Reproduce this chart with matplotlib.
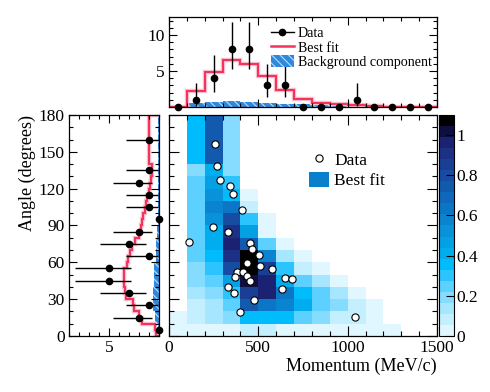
import numpy as np
import matplotlib
matplotlib.use('Agg')
from matplotlib import pyplot as plt
from matplotlib.colors import ListedColormap, BoundaryNorm
from matplotlib.lines import Line2D
from matplotlib.patches import Patch
from matplotlib.ticker import MultipleLocator

plt.rcParams['font.family'] = ['Liberation Serif', 'DejaVu Serif']
plt.rcParams['hatch.linewidth'] = 0.8
plt.rcParams['axes.linewidth'] = 0.9

# binning
mom_edges = np.arange(0, 1501, 100)
ang_edges = np.array([0, 10, 20, 30, 40, 50, 60, 70, 80, 90, 100, 110, 120, 130, 140, 180])
fit_ang_edges = np.append(np.arange(0, 141, 5), 180)

# individual events (momentum MeV/c, angle deg)
data_mom = [255, 266, 285, 339, 357, 411, 246, 328, 112, 456, 467, 506, 435, 508,
            579, 382, 415, 369, 437, 456, 651, 690, 328, 635, 363, 475, 395, 1042]
data_ang = [156, 138.5, 126.8, 122.5, 116, 102.4, 88.5, 84.4, 76.8, 75.5, 71.1, 66,
            59.2, 56.7, 54.8, 51.9, 51.9, 48.3, 48.9, 44.8, 47.5, 46.4, 39.6, 38.6,
            35, 29.3, 19.5, 15.2]

# momentum projection
mom_counts = [0, 1, 4, 8, 8, 3, 3, 0, 0, 0, 1, 0, 0, 0, 0]
mom_lo = [0, 0.17, 2.09, 5.32, 5.32, 1.37, 1.37, 0, 0, 0, 0.17, 0, 0, 0, 0]
mom_hi = [0, 3.30, 7.16, 11.77, 11.77, 5.92, 5.92, 0, 0, 0, 3.30, 0, 0, 0, 0]
fit_mom = [0, 2.24, 4.86, 6.54, 5.98, 4.25, 2.43, 1.17, 0.6, 0.37, 0.28, 0.1, 0.05, 0.0, 0.0]
bkg_mom = [0, 0.6, 0.75, 0.85, 0.65, 0.5, 0.4, 0.35, 0.25, 0.2, 0.15, 0.1, 0.06, 0, 0]

# angle projection
ang_counts = [0, 2, 1, 3, 5, 5, 1, 3, 2, 0, 1, 1, 2, 1, 1]
ang_lo = [0, 0.71, 0.17, 1.37, 2.84, 2.84, 0.17, 1.37, 0.71, 0, 0.17, 0.17, 0.71, 0.17, 0.17]
ang_hi = [0, 4.64, 3.30, 5.92, 8.38, 8.38, 3.30, 5.92, 4.64, 0, 3.30, 3.30, 4.64, 3.30, 3.30]
fit_ang = [0.3, 0.45, 1.7, 2.0, 2.55, 2.6, 3.3, 3.4, 3.5, 3.55, 3.5, 3.2, 3.1, 2.95,
           2.7, 2.45, 2.05, 1.85, 1.7, 1.6, 1.4, 1.3, 1.2, 1.05, 0.93, 0.85, 0.75, 0.7,
           1.0]
bkg_ang = [0.1, 0.4, 0.6, 0.65, 0.55, 0.5, 0.35, 0.3, 0.25, 0.1, 0.08, 0.08, 0.08, 0.08, 0.08]

# best-fit 2D pdf, rows = angle bins, columns = momentum bins
fit_2d = np.array([
    [0.03, 0.05, 0.05, 0.05, 0.08, 0.08, 0.05, 0.03, 0.03, 0.03, 0.03, 0.03, 0.03, 0, 0],
    [0.05, 0.08, 0.14, 0.19, 0.36, 0.36, 0.36, 0.25, 0.19, 0.11, 0.08, 0.03, 0, 0, 0],
    [0, 0.08, 0.14, 0.25, 0.74, 0.65, 0.58, 0.44, 0.25, 0.19, 0.08, 0.03, 0, 0, 0],
    [0, 0.14, 0.19, 0.30, 0.85, 0.96, 0.65, 0.36, 0.25, 0.14, 0.03, 0, 0, 0, 0],
    [0, 0.19, 0.25, 0.47, 1.02, 0.96, 0.41, 0.25, 0.14, 0.03, 0, 0, 0, 0, 0],
    [0, 0.19, 0.30, 0.80, 1.07, 0.88, 0.30, 0.11, 0.03, 0, 0, 0, 0, 0, 0],
    [0, 0.25, 0.36, 0.91, 1.07, 0.58, 0.14, 0.03, 0, 0, 0, 0, 0, 0, 0],
    [0, 0.25, 0.44, 0.96, 0.74, 0.25, 0.05, 0, 0, 0, 0, 0, 0, 0, 0],
    [0, 0.25, 0.41, 0.91, 0.47, 0.05, 0, 0, 0, 0, 0, 0, 0, 0, 0],
    [0, 0.25, 0.52, 0.80, 0.30, 0.05, 0, 0, 0, 0, 0, 0, 0, 0, 0],
    [0, 0.25, 0.58, 0.65, 0.08, 0, 0, 0, 0, 0, 0, 0, 0, 0, 0],
    [0, 0.25, 0.52, 0.36, 0.03, 0, 0, 0, 0, 0, 0, 0, 0, 0, 0],
    [0, 0.25, 0.47, 0.28, 0, 0, 0, 0, 0, 0, 0, 0, 0, 0, 0],
    [0, 0.19, 0.41, 0.19, 0, 0, 0, 0, 0, 0, 0, 0, 0, 0, 0],
    [0, 0.36, 0.74, 0.19, 0, 0, 0, 0, 0, 0, 0, 0, 0, 0, 0],
])

palette = ['#e0f7ff', '#c4efff', '#a6e6ff', '#86dcff', '#5cd0ff', '#2cc4ff', '#00bcfc',
           '#00aef0', '#04a0e4', '#0892da', '#0a84d0', '#0c76c6', '#0e68bc', '#125aae',
           '#164ca2', '#1a3e94', '#1c3086', '#1c2272', '#0e0e40', '#000000']
zmax = 1.1

RED = '#f2345f'
HALO = '#fbc3cf'
BKG_FACE = '#2f88dc'
BKG_HATCH = '#b8dcfa'
TICK_FS = 12.5


def root_ticks(ax, major=6, minor=3):
    ax.tick_params(which='both', direction='in', top=True, right=True,
                   width=0.8, labelsize=TICK_FS, pad=3)
    ax.tick_params(which='major', length=major)
    ax.tick_params(which='minor', length=minor)


W, H = 490, 392
fig = plt.figure(figsize=(W / 100, H / 100), dpi=100)
ax_main = fig.add_axes([169 / W, (H - 336) / H, 268 / W, 221 / H])
ax_top = fig.add_axes([169 / W, (H - 107) / H, 268 / W, 90 / H])
ax_left = fig.add_axes([69 / W, (H - 336) / H, 90.3 / W, 221 / H])
cax = fig.add_axes([438.5 / W, (H - 336) / H, 15 / W, 221 / H])

# ---- 2D panel
cmap = ListedColormap(palette)
cmap.set_bad('white')
norm = BoundaryNorm(np.linspace(0, zmax, len(palette) + 1), cmap.N)
mesh = ax_main.pcolormesh(mom_edges, ang_edges, np.ma.masked_equal(fit_2d, 0),
                          cmap=cmap, norm=norm)
ax_main.plot(data_mom, data_ang, 'o', ms=5.2, mfc='white', mec='black', mew=0.8)
ax_main.set_xlim(0, 1500)
ax_main.set_ylim(0, 180)
ax_main.xaxis.set_major_locator(MultipleLocator(500))
ax_main.xaxis.set_minor_locator(MultipleLocator(100))
ax_main.yaxis.set_major_locator(MultipleLocator(30))
ax_main.yaxis.set_minor_locator(MultipleLocator(10))
root_ticks(ax_main, 7, 3.5)
ax_main.tick_params(labelleft=False)
ax_main.set_xlabel('Momentum (MeV/c)', fontsize=13, loc='right', labelpad=1)
ax_main.legend(handles=[Line2D([], [], marker='o', ls='none', ms=5.2, mfc='white',
                               mec='black', mew=0.8),
                        Patch(facecolor='#0a80cc', edgecolor='none')],
               labels=['Data', 'Best fit'], loc='upper left',
               bbox_to_anchor=(0.49, 0.875), frameon=False, fontsize=12.5,
               handlelength=1.15, handleheight=1.0, handletextpad=0.3,
               labelspacing=0.15, borderpad=0)

cb = fig.colorbar(mesh, cax=cax, spacing='proportional')
cb.set_ticks([0, 0.2, 0.4, 0.6, 0.8, 1.0])
cb.set_ticklabels(['0', '0.2', '0.4', '0.6', '0.8', '1'])
cb.outline.set_linewidth(0.8)
cax.tick_params(direction='in', length=6, width=0.8, labelsize=TICK_FS, pad=2)
cax.minorticks_off()

# ---- momentum projection
ax_top.stairs(bkg_mom, mom_edges, fill=True, facecolor=BKG_FACE, edgecolor=BKG_HATCH,
              hatch='\\\\\\\\', linewidth=0)
ax_top.stairs(fit_mom, mom_edges, color=HALO, lw=3.2)
ax_top.stairs(fit_mom, mom_edges, color=RED, lw=1.5)
mom_c = (mom_edges[:-1] + mom_edges[1:]) / 2
mom_counts = np.array(mom_counts, float)
yerr = [np.where(mom_counts > 0, mom_counts - np.array(mom_lo), 0),
        np.where(mom_counts > 0, np.array(mom_hi) - mom_counts, 0)]
ax_top.errorbar(mom_c, mom_counts, yerr=yerr, fmt='o', color='black', ms=4.5,
                elinewidth=1, capsize=0, clip_on=False, zorder=5)
ax_top.set_xlim(0, 1500)
ax_top.set_ylim(0, 12.5)
ax_top.xaxis.set_major_locator(MultipleLocator(500))
ax_top.xaxis.set_minor_locator(MultipleLocator(100))
ax_top.set_yticks([5, 10])
ax_top.yaxis.set_minor_locator(MultipleLocator(1))
root_ticks(ax_top, 6, 3)
ax_top.tick_params(labelbottom=False)
ax_top.legend(handles=[Line2D([], [], color='black', marker='o', ms=4.5, lw=1),
                       Line2D([], [], color=RED, lw=1.8),
                       Patch(facecolor=BKG_FACE, edgecolor=BKG_HATCH, hatch='\\\\\\\\',
                             linewidth=0)],
              labels=['Data', 'Best fit', 'Background component'], loc='upper left',
              bbox_to_anchor=(0.355, 0.97), frameon=False, fontsize=10.1,
              handlelength=1.6, handleheight=0.9, handletextpad=0.3,
              labelspacing=0.05, borderpad=0)

# ---- angle projection
ax_left.stairs(bkg_ang, ang_edges, orientation='horizontal', fill=True,
               facecolor=BKG_FACE, edgecolor=BKG_HATCH, hatch='\\\\\\\\', linewidth=0)
ax_left.stairs(fit_ang, fit_ang_edges, orientation='horizontal', color=HALO, lw=3.2)
ax_left.stairs(fit_ang, fit_ang_edges, orientation='horizontal', color=RED, lw=1.5)
ang_c = (ang_edges[:-1] + ang_edges[1:]) / 2
ang_counts = np.array(ang_counts, float)
xerr = [np.where(ang_counts > 0, ang_counts - np.array(ang_lo), 0),
        np.where(ang_counts > 0, np.array(ang_hi) - ang_counts, 0)]
ax_left.errorbar(ang_counts, ang_c, xerr=xerr, fmt='o', color='black', ms=4.5,
                 elinewidth=1, capsize=0, clip_on=False, zorder=5)
ax_left.set_xlim(9, 0)
ax_left.set_ylim(0, 180)
ax_left.set_xticks([5])
ax_left.xaxis.set_minor_locator(MultipleLocator(1))
ax_left.yaxis.set_major_locator(MultipleLocator(30))
ax_left.yaxis.set_minor_locator(MultipleLocator(10))
root_ticks(ax_left, 6, 3)
ax_left.set_ylabel('Angle (degrees)', fontsize=13, loc='top', labelpad=2)

fig.savefig('out.png', dpi=100)
